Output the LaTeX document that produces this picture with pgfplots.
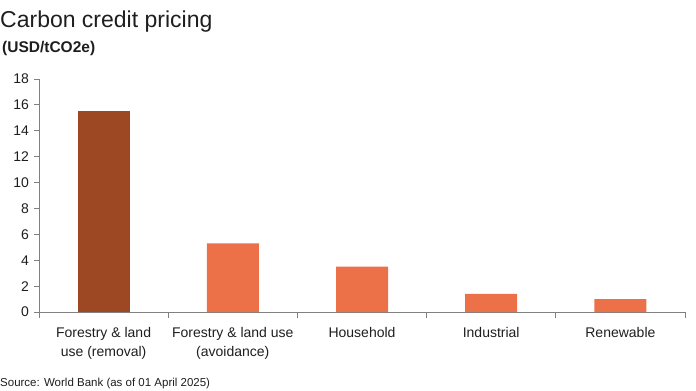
\documentclass[border=0pt]{standalone}
\usepackage{fontspec}
\setmainfont{Liberation Sans}
\usepackage{pgfplots}
\pgfplotsset{compat=1.18}
\definecolor{rust}{RGB}{158,72,35}
\definecolor{coral}{RGB}{236,112,72}
\definecolor{axgray}{RGB}{128,128,128}
\definecolor{txt}{RGB}{30,30,30}
\begin{document}
\begin{tikzpicture}[x=1bp,y=1bp]
\path[use as bounding box] (0,0) rectangle (696,390);
\node[anchor=base west,inner sep=0,text=txt,font=\fontsize{23bp}{26bp}\selectfont] at (0,363) {Carbon credit pricing};
\node[anchor=base west,inner sep=0,text=txt,font=\fontsize{15.5bp}{18bp}\selectfont\bfseries] at (2,338) {(USD/tCO2e)};
\node[anchor=base west,inner sep=0,text=txt,font=\fontsize{11.5bp}{13bp}\selectfont] at (0,4) {Source: World Bank (as of 01 April 2025)};
\begin{axis}[
  at={(39bp,78bp)}, anchor=south west,
  scale only axis, width=646bp, height=233bp,
  xmin=-0.5, xmax=4.5, ymin=0, ymax=18,
  axis x line*=bottom, axis y line*=left,
  axis line style={axgray, line width=0.8pt},
  ytick={0,2,...,18},
  xtick={0,1,2,3,4},
  xticklabels={{Forestry \& land\\use (removal)},{Forestry \& land use\\(avoidance)},Household,Industrial,Renewable},
  xticklabel style={align=center, text=txt, font=\fontsize{14bp}{19bp}\selectfont, yshift=-6.5bp},
  yticklabel style={text=txt, font=\fontsize{14bp}{16bp}\selectfont, xshift=-1.5bp},
  /pgf/number format/assume math mode=true,
  minor xtick={-0.5,0.5,1.5,2.5,3.5,4.5},
  major x tick style={draw=none},
  minor x tick style={axgray, line width=0.8pt},
  y tick style={axgray, line width=0.8pt},
  tick align=outside,
  major tick length=5bp, minor tick length=6bp,
  ybar, bar width=52bp, bar shift=0pt,
  clip=false,
]
\addplot[fill=rust, draw=none] coordinates {(0,15.5)};
\addplot[fill=coral, draw=none] coordinates {(1,5.3) (2,3.5) (3,1.4) (4,1.0)};
\end{axis}
\end{tikzpicture}
\end{document}
